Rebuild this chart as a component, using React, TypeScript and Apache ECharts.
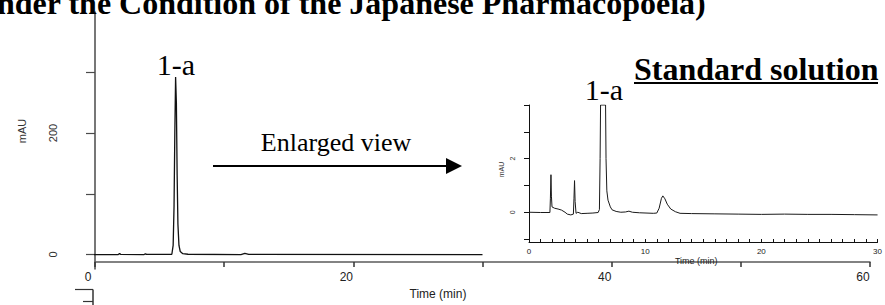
import React, { useEffect, useRef } from 'react';
import * as echarts from 'echarts';

// Main chromatogram (full run)
const mainTime = [-1.3, 0, 1.8, 1.9, 2.0, 3.8, 3.9, 4.0, 5.95, 6.05, 6.12, 6.18, 6.24, 6.3, 6.36, 6.42, 6.5, 6.6, 6.8, 7.2, 11.3, 11.6, 11.9, 30];
const mainSignal = [0, 0, 0, 1.5, 0.3, 0, 1.2, 0.2, 0.5, 15, 80, 200, 292, 250, 130, 50, 15, 5, 1.5, 0.5, 0, 2, 0.3, 0];

// Enlarged view (standard solution)
const insetTime = [0, 1.0, 1.8, 1.84, 1.89, 1.93, 1.98, 2.2, 2.5, 2.8, 3.1, 3.3, 3.6, 3.82, 3.87, 3.92, 3.97, 4.05, 4.2, 4.5, 5.0, 5.5, 5.95, 6.06, 6.12, 6.16, 6.59, 6.63, 6.7, 6.8, 7.0, 7.15, 7.5, 7.9, 8.3, 8.6, 8.9, 9.5, 10.7, 11.0, 11.2, 11.4, 11.52, 11.7, 11.9, 12.2, 12.6, 13.0, 14, 16, 18, 20, 22, 24, 26, 28, 30];
const insetSignal = [0, -0.01, -0.01, 0.5, 1.4, 0.6, 0.2, 0.15, 0.12, 0.08, 0.0, -0.07, -0.1, -0.07, 0.5, 1.18, 0.4, -0.04, 0.0, -0.05, -0.04, -0.03, -0.01, 0.1, 2.0, 4.0, 4.0, 2.0, 0.8, 0.45, 0.2, 0.09, 0.03, 0.0, 0.01, 0.04, 0.0, -0.02, -0.04, -0.03, 0.15, 0.52, 0.61, 0.5, 0.3, 0.12, 0.02, -0.04, -0.05, -0.06, -0.07, -0.08, -0.07, -0.08, -0.08, -0.09, -0.1];

// Axis ticks & labels
const mainXTicks = [0, 10, 20, 30, 40, 50, 60];
const mainXLabels = [0, 20, 40, 60];
const mainYTicks = [0, 100, 200, 300];
const mainYLabels = [0, 200];
const insetXTicks = [0, 1, 2, 3, 4, 5, 6, 7, 8, 9, 10, 11, 12, 13, 14, 15, 16, 17, 18, 19, 20, 21, 22, 23, 24, 25, 26, 27, 28, 29, 30];
const insetXLabels = [0, 10, 20, 30];
const insetYTicks = [-1, 0, 1, 2, 3, 4];
const insetYLabels = [0, 2];

const titleText = 'nder the Condition of the Japanese Pharmacopoeia)';
const peakLabel = '1-a';
const insetTitle = 'Standard solution';
const arrowText = 'Enlarged view';

const SERIF = 'Liberation Serif';
const SANS = 'Liberation Sans';

export default function App() {
  const ref = useRef<HTMLDivElement>(null);
  useEffect(() => {
    if (!ref.current) return;
    const chart = echarts.init(ref.current, undefined, { renderer: 'svg' });
    const axisGray = '#4a4a4a';
    chart.setOption({
      animation: false,
      backgroundColor: '#ffffff',
      title: {
        text: titleText,
        left: -3,
        top: -13,
        padding: 0,
        textStyle: { fontFamily: SERIF, fontWeight: 'bold', fontSize: 32, color: '#000', lineHeight: 32 },
      },
      grid: [
        { left: 95, top: 12, width: 775, height: 261 },
        { left: 529, top: 105, width: 349.5, height: 137 },
      ],
      xAxis: [
        {
          type: 'value', gridIndex: 0, min: 0, max: 60, offset: -7,
          axisLine: { show: true, onZero: false, lineStyle: { color: '#5a5a5a', width: 1.5 } },
          axisTick: { show: true, customValues: mainXTicks, length: 5, lineStyle: { color: '#333', width: 1.5 } },
          axisLabel: { customValues: mainXLabels, showMinLabel: true, margin: 9, fontSize: 12, fontFamily: SANS, color: '#222', padding: [0, 14, 0, 0] },
          splitLine: { show: false },
          name: 'Time (min)', nameLocation: 'middle', nameGap: 26,
          nameTextStyle: { fontSize: 12, fontFamily: SANS, color: '#222', padding: [0, 89, 0, 0] },
        },
        {
          type: 'value', gridIndex: 1, min: 0, max: 30,
          axisLine: { show: true, onZero: false, lineStyle: { color: '#111', width: 1 } },
          axisTick: { show: true, customValues: insetXTicks, inside: true, length: 3, lineStyle: { color: '#111', width: 1 } },
          axisLabel: { customValues: insetXLabels, showMinLabel: true, hideOverlap: false, margin: 5, fontSize: 8, fontFamily: SANS, color: '#222' },
          splitLine: { show: false },
          name: 'Time (min)', nameLocation: 'middle', nameGap: 14,
          nameTextStyle: { fontSize: 9, fontFamily: SANS, color: '#222', padding: [0, 14, 0, 0] },
        },
      ],
      yAxis: [
        {
          type: 'value', gridIndex: 0, min: -23.8, max: 399.2,
          axisLine: { show: true, onZero: false, lineStyle: { color: axisGray, width: 1.5 } },
          axisTick: { show: true, customValues: mainYTicks, length: 9, lineStyle: { color: axisGray, width: 1.2 } },
          axisLabel: { customValues: mainYLabels, rotate: 90, margin: 37, fontSize: 11, fontFamily: SANS, color: '#333' },
          splitLine: { show: false },
          name: 'mAU', nameLocation: 'middle', nameRotate: 90, nameGap: 68,
          nameTextStyle: { fontSize: 11, fontFamily: SANS, color: '#333', padding: [0, 0, 0, 19] },
        },
        {
          type: 'value', gridIndex: 1, min: -1.11, max: 4,
          axisLine: { show: true, onZero: false, lineStyle: { color: '#111', width: 1 } },
          axisTick: { show: true, customValues: insetYTicks, length: 5, lineStyle: { color: '#111', width: 1 } },
          axisLabel: { customValues: insetYLabels, rotate: 90, margin: 13, fontSize: 7, fontFamily: SANS, color: '#333' },
          splitLine: { show: false },
          name: 'mAU', nameLocation: 'middle', nameRotate: 90, nameGap: 24,
          nameTextStyle: { fontSize: 7, fontFamily: SANS, color: '#333', padding: [0, 0, 0, 8] },
        },
      ],
      series: [
        {
          type: 'line', xAxisIndex: 0, yAxisIndex: 0, clip: false,
          showSymbol: false, symbol: 'none',
          lineStyle: { color: '#111', width: 1.3 },
          data: mainTime.map((t, i) => [t, mainSignal[i]]),
        },
        {
          type: 'line', xAxisIndex: 1, yAxisIndex: 1,
          showSymbol: false, symbol: 'none',
          lineStyle: { color: '#1a1a1a', width: 1 },
          data: insetTime.map((t, i) => [t, insetSignal[i]]),
        },
      ],
      graphic: [
        { type: 'text', x: 176, y: 64, style: { text: peakLabel, font: `30px "${SERIF}"`, fill: '#000', align: 'center', verticalAlign: 'middle' } },
        { type: 'text', x: 604, y: 89, style: { text: peakLabel, font: `30px "${SERIF}"`, fill: '#000', align: 'center', verticalAlign: 'middle' } },
        { type: 'text', x: 634, y: 68.5, style: { text: insetTitle, font: `bold 32px "${SERIF}"`, fill: '#000', align: 'left', verticalAlign: 'middle' } },
        { type: 'line', shape: { x1: 634, y1: 83, x2: 878, y2: 83 }, style: { stroke: '#000', lineWidth: 2 } },
        { type: 'text', x: 336, y: 142, style: { text: arrowText, font: `26px "${SERIF}"`, fill: '#000', align: 'center', verticalAlign: 'middle' } },
        { type: 'line', shape: { x1: 213, y1: 166, x2: 448, y2: 166 }, style: { stroke: '#000', lineWidth: 2 } },
        { type: 'polygon', shape: { points: [[446, 158], [462, 166], [446, 174]] }, style: { fill: '#000' } },
        { type: 'line', shape: { x1: 75, y1: 289.5, x2: 93, y2: 289.5 }, style: { stroke: '#333', lineWidth: 1.2 } },
        { type: 'line', shape: { x1: 93, y1: 289.5, x2: 93, y2: 305 }, style: { stroke: '#333', lineWidth: 1.5 } },
        { type: 'line', shape: { x1: 83, y1: 301.5, x2: 93, y2: 301.5 }, style: { stroke: '#333', lineWidth: 1.2 } },
      ],
    });
    return () => chart.dispose();
  }, []);
  return <div ref={ref} style={{ position: 'fixed', left: 0, top: 0, width: 885, height: 305 }} />;
}
